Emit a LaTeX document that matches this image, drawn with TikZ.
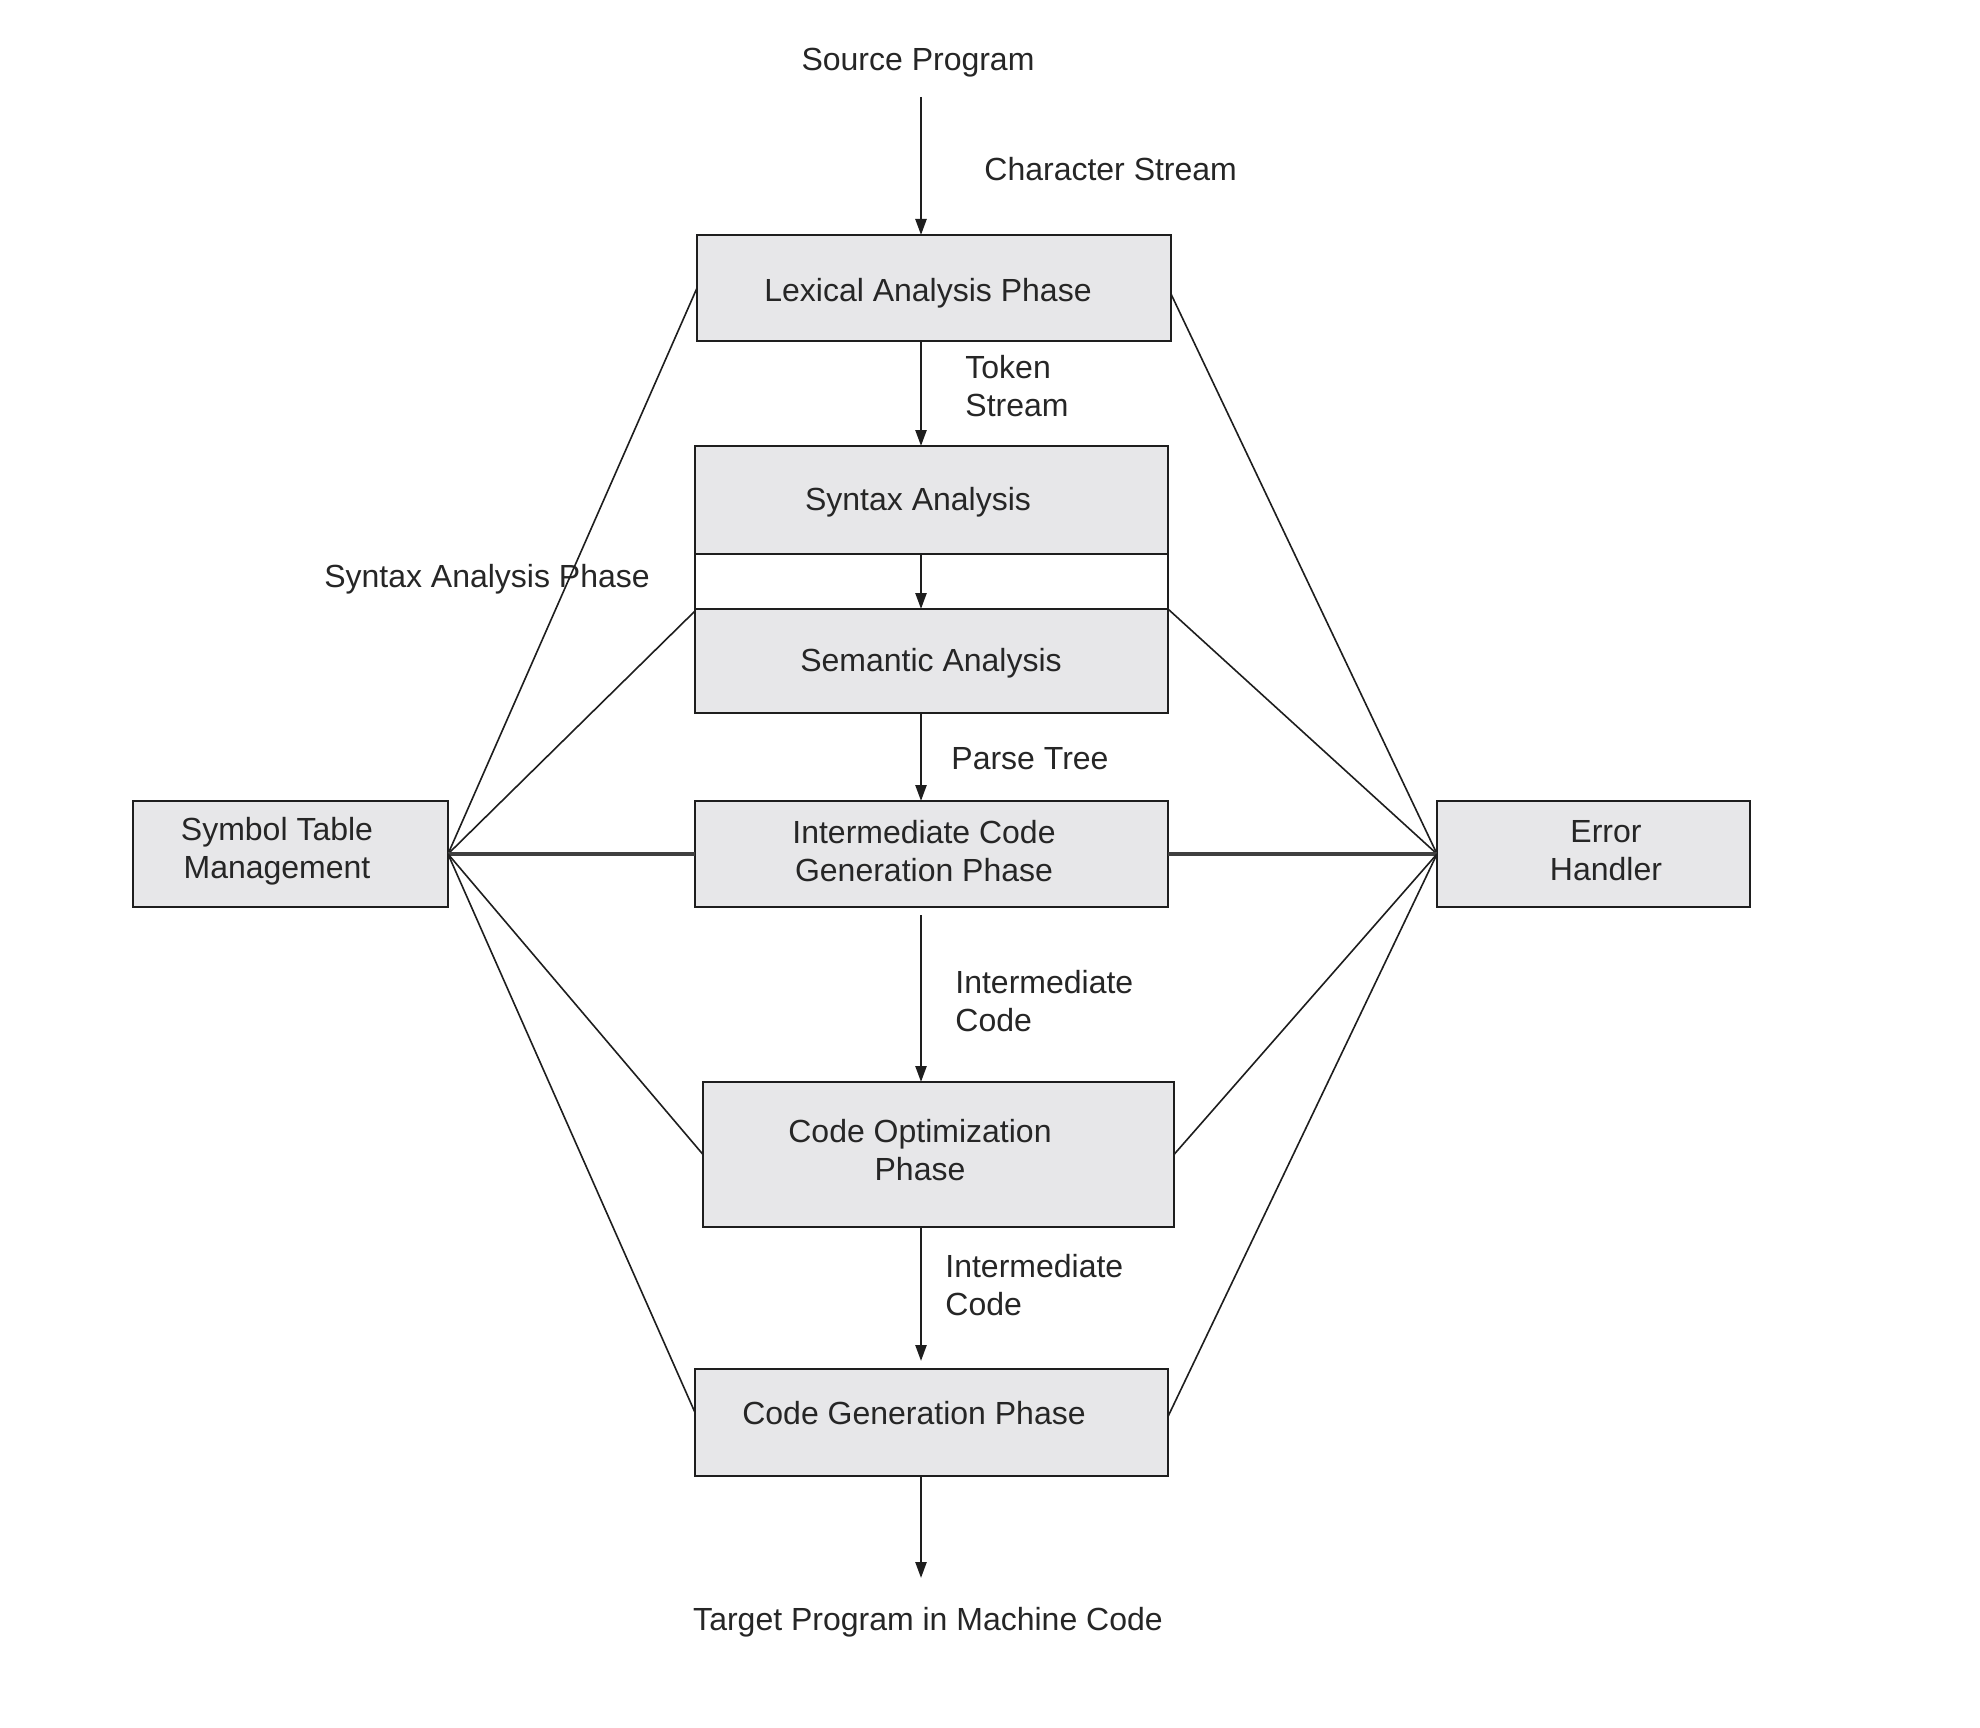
\documentclass[tikz,border=0pt]{standalone}
\usepackage{fontspec}
\setmainfont{Liberation Sans}
\usetikzlibrary{arrows.meta}
\definecolor{boxgray}{HTML}{E7E7E9}
\definecolor{txt}{HTML}{262626}
\definecolor{edge}{HTML}{1E1E1E}
\begin{document}
\begin{tikzpicture}[x=0.5pt,y=-0.5pt,
  box/.style={draw=edge, line width=1.4pt, fill=boxgray, inner sep=0pt, outer sep=0pt},
  lbl/.style={text=txt, font=\fontsize{16}{19}\selectfont, inner sep=0pt, align=center, yshift=-1.8pt},
  lbll/.style={lbl, align=left, anchor=west},
  arr/.style={draw=edge, line width=1.2pt, -{Triangle[length=8pt,width=5.5pt]}},
  conn/.style={draw=edge, line width=0.8pt},
  hconn/.style={draw=edge!85, line width=1.7pt}]
\useasboundingbox (0,0) rectangle (1980,1728);
\fill[white] (0,0) rectangle (1980,1728);
% boxes
\node[box, minimum width=237pt, minimum height=53pt] (lex) at (934,288) {};
\node[box, minimum width=236.5pt, minimum height=54pt] (syn) at (931.5,500) {};
\node[box, minimum width=236.5pt, minimum height=52pt] (sem) at (931.5,661) {};
\node[box, minimum width=236.5pt, minimum height=53pt] (icg) at (931.5,854) {};
\node[box, minimum width=157.5pt, minimum height=53pt] (sym) at (290.5,854) {};
\node[box, minimum width=156.5pt, minimum height=53pt] (err) at (1593.5,854) {};
\node[box, minimum width=235.5pt, minimum height=72.5pt] (co) at (938.5,1154.5) {};
\node[box, minimum width=236.5pt, minimum height=53.5pt] (cg) at (931.5,1422.5) {};
\draw[edge, line width=1.4pt] (syn.north west) rectangle (sem.south east);
% axis for arrows
\coordinate (ax) at (921,0);
\coordinate (srcend) at (921,97);
\coordinate (tgtend) at (921,1578);
% texts
\node[lbl] (src) at (918,59) {Source Program};
\node[lbl] (tgt) at (928,1619) {Target Program in Machine Code};
\node[lbll] (cs) at (984,165) {Character Stream};
\node[lbll] (ts) at (965,382) {Token\\Stream};
\node[lbll] (pt) at (951,755) {Parse Tree};
\node[lbll] (ic1) at (955,997) {Intermediate\\Code};
\node[lbll] (ic2) at (945,1281) {Intermediate\\Code};
\node[lbl] (sap) at (487,576) {Syntax Analysis Phase};
\node[lbl] (tlex) at (928,290) {Lexical Analysis Phase};
\node[lbl] (tsyn) at (918,499) {Syntax Analysis};
\node[lbl] (tsem) at (931,660) {Semantic Analysis};
\node[lbl] (ticg) at (924,847) {Intermediate Code\\Generation Phase};
\node[lbl] (tsym) at (277,848) {Symbol Table\\Management};
\node[lbl] (terr) at (1606,847) {Error\\Handler};
\node[lbl] (tco) at (920,1146) {Code Optimization\\Phase};
\node[lbl] (tcg) at (914,1409) {Code Generation Phase};
% flow arrows
\draw[arr] (srcend) -- (lex.north -| ax);
\draw[arr] (lex.south -| ax) -- (syn.north -| ax);
\draw[arr] (syn.south -| ax) -- (sem.north -| ax);
\draw[arr] (sem.south -| ax) -- (icg.north -| ax);
\draw[arr, shorten <=4pt] (icg.south -| ax) -- (co.north -| ax);
\draw[arr] (co.south -| ax) -- ([yshift=4pt]cg.north -| ax);
\draw[arr] (cg.south -| ax) -- (tgtend);
% symbol table connectors
\draw[conn] (sym.east) -- (lex.west);
\draw[conn] (sym.east) -- ([yshift=-1pt]sem.north west);
\draw[hconn] (sym.east) -- (icg.west);
\draw[conn] (sym.east) -- (co.west);
\draw[conn] (sym.east) -- ([yshift=5pt]cg.west);
% error handler connectors
\draw[conn] (err.west) -- ([yshift=-3pt]lex.east);
\draw[conn] (err.west) -- (sem.north east);
\draw[hconn] (err.west) -- (icg.east);
\draw[conn] (err.west) -- (co.east);
\draw[conn] (err.west) -- ([yshift=3pt]cg.east);
\end{tikzpicture}
\end{document}
